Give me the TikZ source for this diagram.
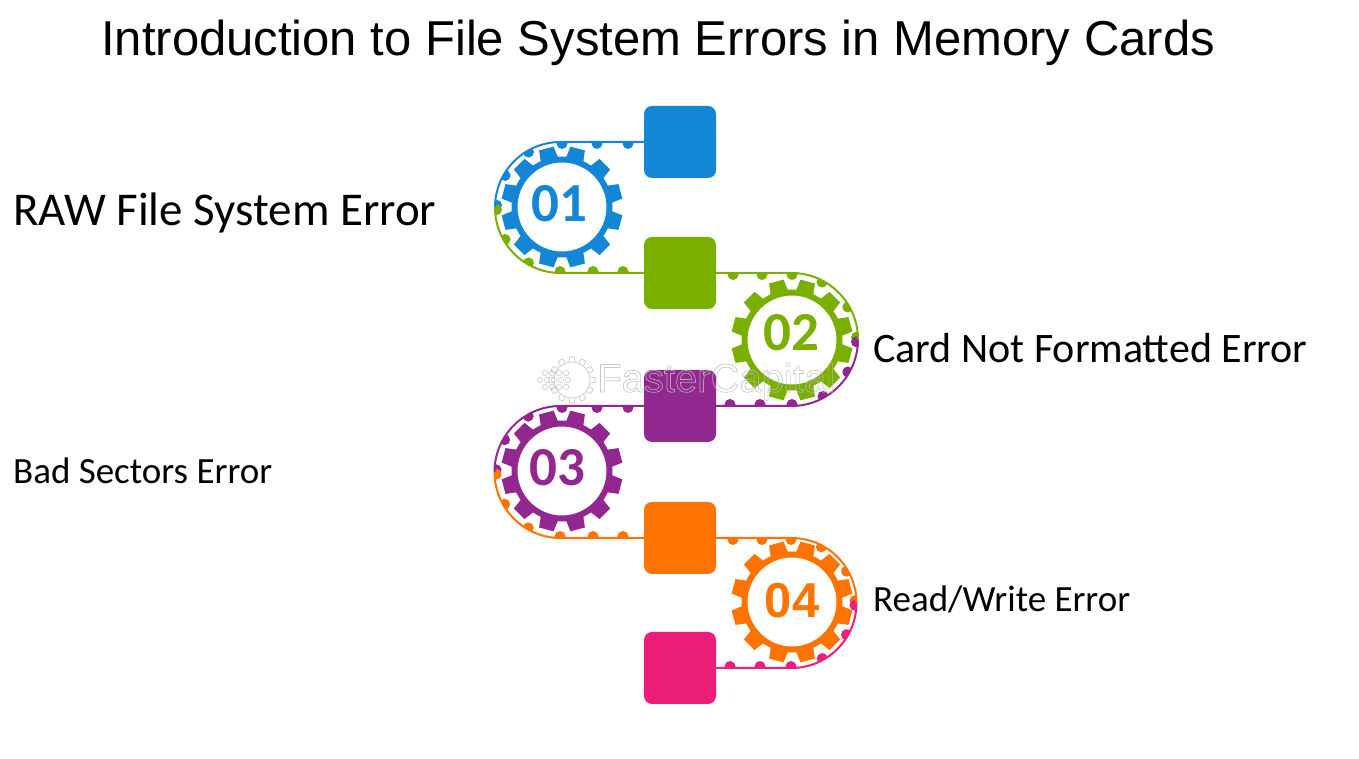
\documentclass[tikz,border=0pt]{standalone}
\usepackage{fontspec}
\setmainfont{Carlito}
\newfontfamily\titlefont{Liberation Sans}
\usepackage{tikz}
\definecolor{cBlue}{HTML}{1387D5}
\definecolor{cGreen}{HTML}{7AAF00}
\definecolor{cPurple}{HTML}{92278F}
\definecolor{cOrange}{HTML}{FF7300}
\definecolor{cPink}{HTML}{EC1E79}
\definecolor{cMark}{HTML}{BEBEBE}

\begin{document}
\begin{tikzpicture}[
    x=1pt, y=1pt,
    sq/.style={rectangle, rounded corners=8pt, minimum size=72pt, inner sep=0pt},
    belt/.style={line width=2pt},
    wheel/.style={circle, draw, line width=6pt, minimum size=95pt, inner sep=0pt},
    num/.style={inner sep=0pt, font=\fontsize{55}{55}\selectfont\bfseries},
    lbl/.style={anchor=base west, inner sep=0pt},
    title/.style={anchor=base west, inner sep=0pt,
                  font=\titlefont\fontsize{49}{51}\selectfont},
]
\useasboundingbox (0,0) rectangle (1359,759);

% ===================== Title and side labels =====================
\node[title] (head) at (101,703) {Introduction to File System Errors in Memory Cards};
\node[lbl, font=\fontsize{47}{49}\selectfont] (errA) at (13,533) {RAW File System Error};
\node[lbl, font=\fontsize{42}{44}\selectfont] (errB) at (873,396) {Card Not Formatted Error};
\node[lbl, font=\fontsize{37}{39}\selectfont] (errC) at (13,275) {Bad Sectors Error};
\node[lbl, font=\fontsize{37}{39}\selectfont] (errD) at (873,147) {Read/Write Error};

% ===================== Squares =====================
\node[sq, fill=cBlue] (sqA) at (680,617) {};
\node[sq, fill=cGreen] (sqB) at (680,486) {};
\node[sq, fill=cPurple] (sqC) at (680,353) {};
\node[sq, fill=cOrange] (sqD) at (680,221) {};
\node[sq, fill=cPink] (sqE) at (680,91) {};

% ===================== Bend centres =====================
\coordinate (cA) at (560.5,551.5);
\coordinate (cB) at (791.5,419.5);
\coordinate (cC) at (560.5,287);
\coordinate (cD) at (791.5,156);

% ===================== Belt 01 =====================
\begin{scope}
  \clip (sqA.west) -- (560.5,617) arc[start angle=90, end angle=270, radius=65.5]
        -- (sqB.west) -- cycle;
  \foreach \a in {120,150,178} \fill[cBlue] (cA) ++(\a:64) circle[radius=5.5];
  \foreach \a in {182,210,240} \fill[cGreen] (cA) ++(\a:64) circle[radius=5.5];
  \foreach \p in {562,597,628} \fill[cBlue] (\p,615.5) circle[radius=5.5];
  \foreach \p in {560,593,623} \fill[cGreen] (\p,487.5) circle[radius=5.5];
\end{scope}
\draw[belt, cBlue] (sqA.west) -- (560.5,617) arc[start angle=90, end angle=180, radius=65.5];
\draw[belt, cGreen] (495,551.5) arc[start angle=180, end angle=270, radius=65.5] -- (sqB.west);

% ===================== Belt 02 =====================
\begin{scope}
  \clip (sqB.east) -- (791.5,486) arc[start angle=90, end angle=-90, radius=66.5]
        -- (sqC.east) -- cycle;
  \foreach \a in {62,30,2} \fill[cGreen] (cB) ++(\a:65) circle[radius=5.5];
  \foreach \a in {-2,-30,-61} \fill[cPurple] (cB) ++(\a:65) circle[radius=5.5];
  \foreach \p in {733,762,792} \fill[cGreen] (\p,484.5) circle[radius=5.5];
  \foreach \p in {730,760,792} \fill[cPurple] (\p,354.5) circle[radius=5.5];
\end{scope}
\draw[belt, cGreen] (sqB.east) -- (791.5,486) arc[start angle=90, end angle=0, radius=66.5];
\draw[belt, cPurple] (858,419.5) arc[start angle=0, end angle=-90, radius=66.5] -- (sqC.east);

% ===================== Belt 03 =====================
\begin{scope}
  \clip (sqC.west) -- (560.5,353) arc[start angle=90, end angle=270, radius=66]
        -- (sqD.west) -- cycle;
  \foreach \a in {120,150,178} \fill[cPurple] (cC) ++(\a:64.5) circle[radius=5.5];
  \foreach \a in {182,210,240} \fill[cOrange] (cC) ++(\a:64.5) circle[radius=5.5];
  \foreach \p in {562,597,628} \fill[cPurple] (\p,351.5) circle[radius=5.5];
  \foreach \p in {560,593,623} \fill[cOrange] (\p,222.5) circle[radius=5.5];
\end{scope}
\draw[belt, cPurple] (sqC.west) -- (560.5,353) arc[start angle=90, end angle=180, radius=66];
\draw[belt, cOrange] (494.5,287) arc[start angle=180, end angle=270, radius=66] -- (sqD.west);

% ===================== Belt 04 =====================
\begin{scope}
  \clip (sqD.east) -- (791.5,221) arc[start angle=90, end angle=-90, radius=65]
        -- (sqE.east) -- cycle;
  \foreach \a in {62,30,2} \fill[cOrange] (cD) ++(\a:63.5) circle[radius=5.5];
  \foreach \a in {-2,-30,-61} \fill[cPink] (cD) ++(\a:63.5) circle[radius=5.5];
  \foreach \p in {733,762,791} \fill[cOrange] (\p,219.5) circle[radius=5.5];
  \foreach \p in {730,760,791} \fill[cPink] (\p,92.5) circle[radius=5.5];
\end{scope}
\draw[belt, cOrange] (sqD.east) -- (791.5,221) arc[start angle=90, end angle=0, radius=65];
\draw[belt, cPink] (856.5,156) arc[start angle=0, end angle=-90, radius=65] -- (sqE.east);

% ===================== Gears =====================
\node[wheel, draw=cBlue] (gearA) at (562,552) {};
\foreach \a in {15,45,...,345}
  \fill[cBlue, shift={(gearA.center)}, rotate=\a] (48,-9) -- (60.5,-7.5) -- (60.5,7.5) -- (48,9) -- cycle;
\node[num, text=cBlue] (numA) at (559,555) {01};

\node[wheel, draw=cGreen] (gearB) at (792,419) {};
\foreach \a in {15,45,...,345}
  \fill[cGreen, shift={(gearB.center)}, rotate=\a] (48,-9) -- (60.5,-7.5) -- (60.5,7.5) -- (48,9) -- cycle;
\node[num, text=cGreen] (numB) at (791,426) {02};

\node[wheel, draw=cPurple] (gearC) at (562,288) {};
\foreach \a in {15,45,...,345}
  \fill[cPurple, shift={(gearC.center)}, rotate=\a] (48,-9) -- (60.5,-7.5) -- (60.5,7.5) -- (48,9) -- cycle;
\node[num, text=cPurple] (numC) at (557,291) {03};

\node[wheel, draw=cOrange] (gearD) at (792,157) {};
\foreach \a in {15,45,...,345}
  \fill[cOrange, shift={(gearD.center)}, rotate=\a] (48,-9) -- (60.5,-7.5) -- (60.5,7.5) -- (48,9) -- cycle;
\node[num, text=cOrange, font=\titlefont\fontsize{49}{49}\selectfont\bfseries] (numD) at (792,158) {04};

% ===================== Faint logo =====================
\begin{scope}[opacity=0.85]
  \node[circle, draw=cMark, line width=0.7pt, minimum size=36pt, inner sep=0pt] (logo) at (572,379) {};
  \foreach \a in {0,30,...,330}
    \draw[cMark, line width=0.7pt, shift={(logo.center)}, rotate=\a] (18,-3) -- (23,-2.5) -- (23,2.5) -- (18,3);
  \foreach \p/\q in {545/373,552/373,559/373,566/373,540/380,547/380,554/380,561/380,568/380,545/387,552/387,559/387,566/387}
    \draw[cMark, line width=0.6pt] (\p,759-\q) circle[radius=2.6];
  \node[anchor=base west, inner sep=0pt, text=cMark, font=\titlefont\fontsize{40}{40}\selectfont] (mark) at (597,367)
    {\special{pdf:code 1 Tr 0.7 w}FasterCapital\special{pdf:code 0 Tr}};
\end{scope}
\end{tikzpicture}
\end{document}
